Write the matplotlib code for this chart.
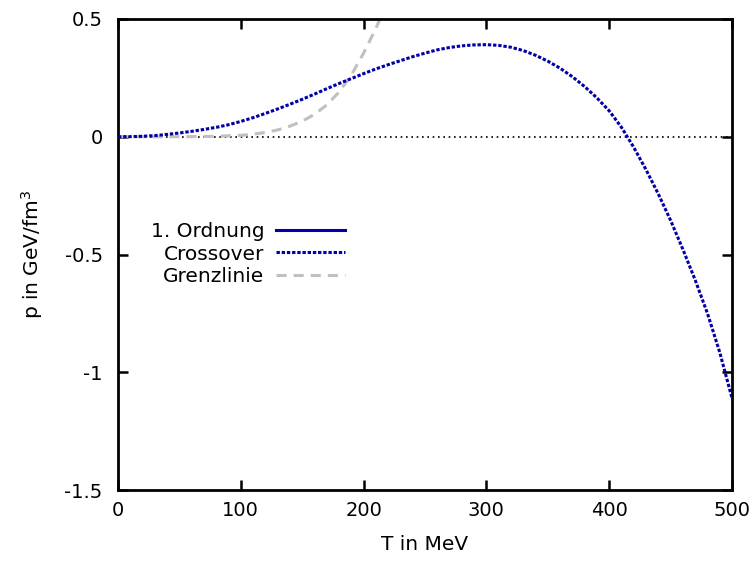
import matplotlib
matplotlib.use("Agg")
import matplotlib.pyplot as plt

# Data
T_cross = [0, 10, 20, 30, 40, 50, 60, 70, 80, 90, 100, 110, 120, 130, 140, 150,
           160, 170, 180, 190, 200, 210, 220, 230, 240, 250, 260, 270, 280, 290,
           300, 310, 320, 330, 340, 350, 360, 370, 380, 390, 400, 410, 420, 430,
           440, 450, 460, 470, 480, 490, 500]
p_cross = [0.0, 0.0005, 0.002, 0.005, 0.010, 0.016, 0.023, 0.031, 0.040, 0.051,
           0.065, 0.081, 0.099, 0.118, 0.138, 0.159, 0.181, 0.204, 0.226, 0.247,
           0.268, 0.288, 0.306, 0.323, 0.340, 0.355, 0.369, 0.379, 0.386, 0.390,
           0.391, 0.388, 0.380, 0.366, 0.346, 0.321, 0.291, 0.255, 0.213, 0.165,
           0.110, 0.040, -0.045, -0.140, -0.243, -0.355, -0.478, -0.608, -0.750,
           -0.915, -1.11]

T_ordnung = []
p_ordnung = []

T_grenz = [0, 20, 40, 60, 80, 100, 110, 120, 130, 140, 150, 160, 170, 180, 190,
           200, 210, 220]
p_grenz = [0.0, 0.0, 0.0, 0.0005, 0.002, 0.006, 0.011, 0.018, 0.029, 0.045, 0.066,
           0.095, 0.135, 0.19, 0.262, 0.355, 0.46, 0.58]

labels = ["1. Ordnung", "Crossover", "Grenzlinie"]
xticks = [0, 100, 200, 300, 400, 500]
yticks = [-1.5, -1, -0.5, 0, 0.5]
yticklabels = ["-1.5", "-1", "-0.5", "0", "0.5"]

plt.rcParams['font.family'] = ['DejaVu Sans']
fig = plt.figure(figsize=(7.54, 5.62), dpi=100)
ax = fig.add_axes([118/754, 1-490/562, (732-118)/754, (490-19)/562])

blue = '#0000a8'
ax.axhline(0, color='black', lw=1.2, ls=(0, (1, 2.2)), zorder=1)
ax.plot(T_grenz, p_grenz, color='#c0c0c0', lw=2.2, dashes=(3.3, 2.3), label=labels[2], zorder=2)
ax.plot(T_ordnung, p_ordnung, color=blue, lw=2.2, label=labels[0], zorder=3)
ax.plot(T_cross, p_cross, color=blue, lw=2.2, dashes=(1.1, 0.6), label=labels[1], zorder=4)

ax.set_xlim(0, 500)
ax.set_ylim(-1.5, 0.5)
ax.set_xticks(xticks)
ax.set_yticks(yticks)
ax.set_yticklabels(yticklabels)
ax.tick_params(direction='in', length=7, width=1.8, top=True, right=True,
               labelsize=14, pad=8)
ax.tick_params(axis='y', pad=11)
for s in ax.spines.values():
    s.set_linewidth(2)

ax.set_xlabel("T in MeV", fontsize=14.5, labelpad=11)
ax.set_ylabel("p in GeV/fm$^3$", fontsize=14.5, labelpad=14)

h, l = ax.get_legend_handles_labels()
order = [l.index(x) for x in labels]
leg = ax.legend([h[i] for i in order], [l[i] for i in order], loc='center right',
                bbox_to_anchor=((345-118)/614, (490-254)/471), frameon=False,
                markerfirst=False, borderpad=0, borderaxespad=0,
                handlelength=3.45, fontsize=14.5, labelspacing=0.17, handletextpad=0.55)

fig.savefig("out.png", dpi=100)
